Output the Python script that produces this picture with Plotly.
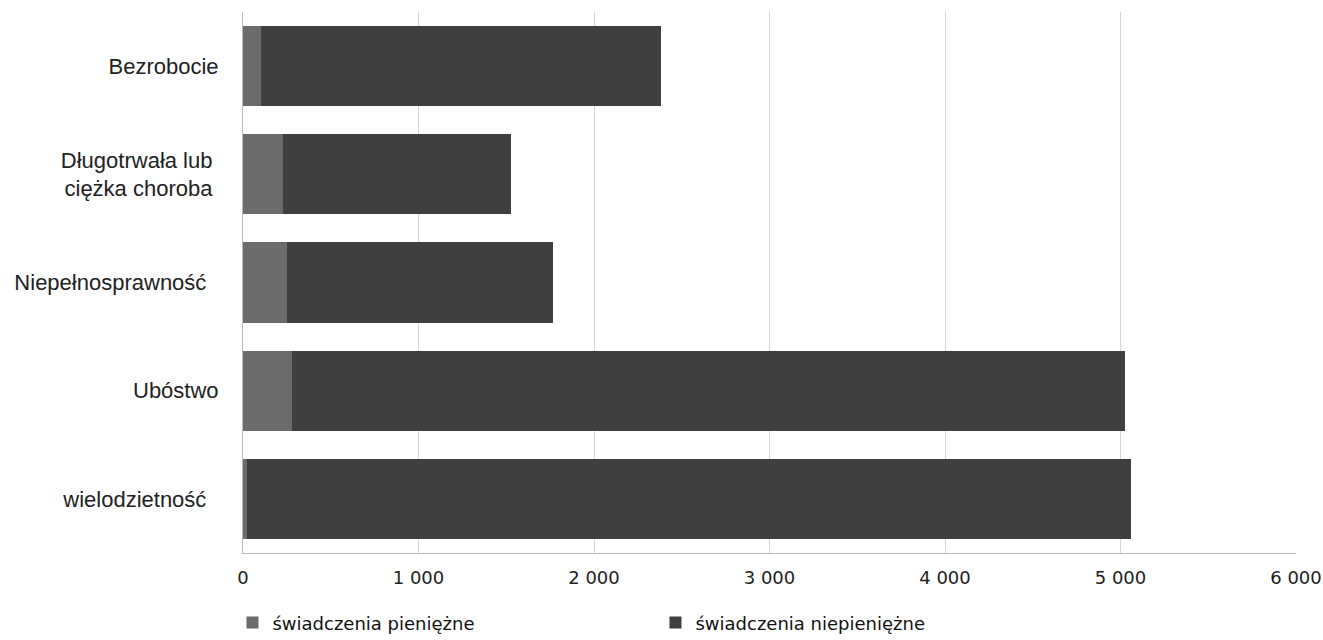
import plotly.graph_objects as go

categories = ["Bezrobocie", "Długotrwała lub <br>ciężka choroba ", "Niepełnosprawność  ", "Ubóstwo", "wielodzietność  "]
pieniezne = [100, 230, 250, 280, 20]
niepieniezne = [2280, 1296, 1515, 4748, 5037]
tick_vals = [0, 1000, 2000, 3000, 4000, 5000, 6000]

fig = go.Figure()
fig.add_trace(go.Bar(y=categories, x=pieniezne, orientation="h", name="świadczenia pieniężne",
                     marker=dict(color="#6b6b6b", line=dict(width=0)), width=0.74))
fig.add_trace(go.Bar(y=categories, x=niepieniezne, orientation="h", name="świadczenia niepieniężne",
                     marker=dict(color="#3f3f3f", line=dict(width=0)), width=0.74))

fig.update_layout(
    barmode="stack",
    width=1323, height=640,
    margin=dict(l=243, r=27, t=12, b=87, autoexpand=False),
    plot_bgcolor="white", paper_bgcolor="white",
    separators=", ",
    font=dict(family="Liberation Sans, Arial, sans-serif", size=22, color="#222"),
    xaxis=dict(range=[0, 6000], tickvals=tick_vals, tickformat=",d", showgrid=True,
               gridcolor="#d6d6d6", gridwidth=1, zeroline=False, showline=True,
               linecolor="#bbbbbb", ticks="", automargin=False, ticklabelstandoff=8,
               tickfont=dict(family="DejaVu Sans, sans-serif", size=18)),
    yaxis=dict(autorange="reversed", showline=True, linecolor="#bbbbbb", ticks="",
               automargin=False, ticklabelstandoff=19, tickfont=dict(size=22)),
    legend=dict(orientation="h", x=-0.01, xanchor="left", y=-0.095, yanchor="top",
                entrywidth=378, font=dict(family="DejaVu Sans, sans-serif", size=18, color="#111"),
                traceorder="normal"),
    showlegend=True,
)
fig.write_html("out.html", config={"displayModeBar": False},
               post_script="document.body.style.margin='0';document.body.style.overflow='hidden';")
